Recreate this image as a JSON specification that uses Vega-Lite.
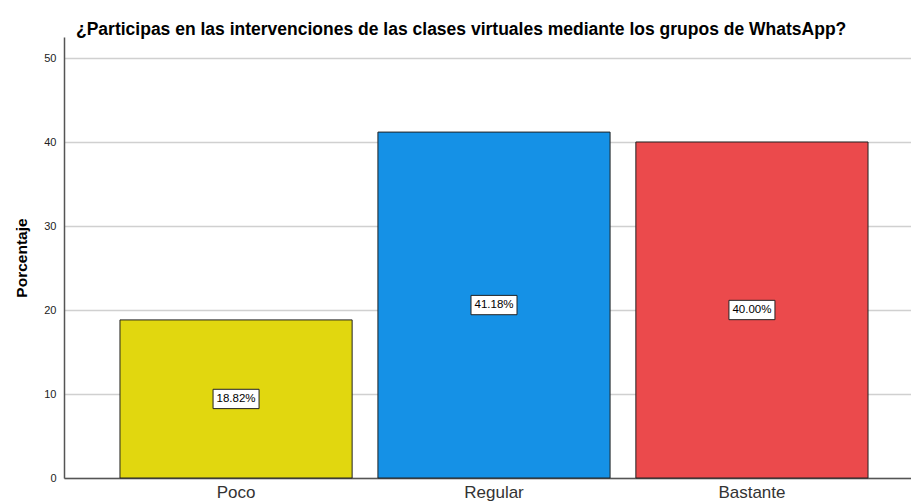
{
  "$schema": "https://vega.github.io/schema/vega-lite/v6.json",
  "autosize": "none",
  "width": 860,
  "height": 441,
  "padding": {"left": 64, "top": 37, "right": 0, "bottom": 26},
  "background": "white",
  "config": {"view": {"stroke": null}, "font": "Liberation Sans"},
  "title": {"text": "¿Participas en las intervenciones de las clases virtuales mediante los grupos de WhatsApp?", "anchor": "start", "frame": "group", "offset": -1, "dx": 12, "fontSize": 17.5, "fontWeight": "bold", "color": "#000000", "font": "Liberation Sans"},
  "data": {"values": [
    {"cat": "Poco", "value": 18.82, "label": "18.82%"},
    {"cat": "Regular", "value": 41.18, "label": "41.18%"},
    {"cat": "Bastante", "value": 40.0, "label": "40.00%"}
  ]},
  "transform": [{"calculate": "datum.value / 2", "as": "mid"}],
  "encoding": {
    "x": {"field": "cat", "type": "nominal", "sort": ["Poco", "Regular", "Bastante"],
      "scale": {"paddingInner": 0.1, "paddingOuter": 0.217},
      "axis": {"title": null, "labelAngle": 0, "labelFontSize": 17, "labelColor": "#333", "ticks": false, "labelPadding": 6, "domainColor": "#555", "domainWidth": 1.5, "labelFont": "Liberation Sans"}}
  },
  "layer": [
    {"mark": {"type": "bar", "stroke": "#222", "strokeWidth": 1},
     "encoding": {
       "y": {"field": "value", "type": "quantitative", "scale": {"domain": [0, 52.5], "nice": false},
         "axis": {"title": "Porcentaje", "titleFontSize": 15.5, "titleFontWeight": "bold", "titleColor": "#000", "titlePadding": 14, "values": [0, 10, 20, 30, 40, 50], "ticks": false, "labelPadding": 8, "labelFontSize": 11, "labelColor": "#222", "domainColor": "#555", "domainWidth": 1.5, "gridColor": "#d0d0d0", "gridWidth": 1.5, "titleFont": "Liberation Sans", "labelFont": "Liberation Sans"}},
       "color": {"field": "cat", "type": "nominal", "scale": {"domain": ["Poco", "Regular", "Bastante"], "range": ["#e1d70f", "#1591e6", "#eb4a4c"]}, "legend": null}
     }},
    {"mark": {"type": "point", "shape": "M-1,-0.42L1,-0.42L1,0.42L-1,0.42Z", "size": 2116, "filled": true, "fill": "white", "stroke": "#222", "strokeWidth": 1, "opacity": 1},
     "encoding": {"y": {"field": "mid", "type": "quantitative"}}},
    {"mark": {"type": "text", "fontSize": 11.5, "color": "#000", "font": "Liberation Sans"},
     "encoding": {"y": {"field": "mid", "type": "quantitative"}, "text": {"field": "label"}}}
  ]
}
